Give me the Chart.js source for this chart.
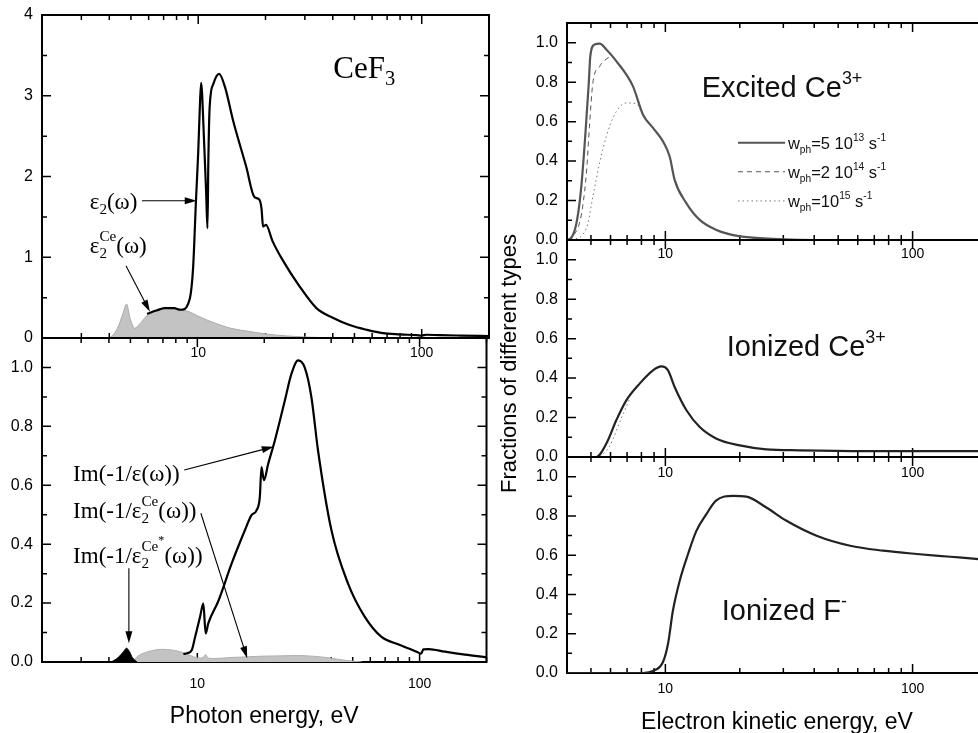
<!DOCTYPE html>
<html><head><meta charset="utf-8">
<script src="https://cdn.jsdelivr.net/npm/chart.js@4.4.1/dist/chart.umd.min.js"></script>
<style>
html,body{margin:0;padding:0;background:#fff;overflow:hidden;width:978px;height:733px;position:relative;}
canvas{position:absolute;}
</style></head><body>
<canvas id="lt"></canvas>
<canvas id="lb"></canvas>
<canvas id="rt"></canvas>
<canvas id="rm"></canvas>
<canvas id="rb"></canvas>
<script>
// ---------- DATA ----------
// Left top: epsilon_2(omega) and epsilon_2^Ce(omega)
const eps2E   = [5.9,6.5,7.1,7.8,8.3,8.7,9.0,9.27,9.5,9.77,10.0,10.15,10.3,10.6,10.85,11.0,11.1,11.25,11.7,12.4,13.2,14.3,16.4,17.8,18.8,19.2,19.5,20.1,21.5,23.8,28.4,33.8,40,47.6,57,67,80,95,100,105,120,150,200];
const eps2Val = [0.30,0.34,0.37,0.37,0.35,0.36,0.42,0.56,0.9,1.7,2.3,2.8,3.16,2.5,1.8,1.36,2.2,2.86,3.15,3.27,3.1,2.7,2.12,1.75,1.71,1.6,1.38,1.40,1.2,0.97,0.64,0.37,0.25,0.16,0.1,0.06,0.045,0.035,0.03,0.04,0.035,0.03,0.025];
const eps2CeE   = [4.0,4.2,4.4,4.6,4.78,4.95,5.2,5.5,6.0,6.5,7.1,7.8,8.5,9.2,10,11,12,14,17,20,25,30,40,50];
const eps2CeVal = [0,0.05,0.15,0.3,0.42,0.25,0.12,0.18,0.30,0.34,0.38,0.37,0.35,0.32,0.27,0.22,0.18,0.12,0.08,0.05,0.025,0.012,0.003,0];
// Left bottom: loss functions
const lossE   = [8.65,9.0,9.43,9.77,10.28,10.64,10.9,11.2,12.43,14.26,16.38,17.5,18.46,19.1,19.44,19.93,20.84,22.34,24.76,26.5,28.4,30.4,32.6,34.9,40.1,47.6,56.6,67.2,80,90,98,101.5,104,110,130,160,200];
const lossVal = [0.027,0.03,0.04,0.085,0.153,0.198,0.097,0.131,0.207,0.334,0.448,0.498,0.515,0.56,0.662,0.617,0.673,0.753,0.888,0.978,1.024,1.0,0.899,0.719,0.448,0.267,0.154,0.086,0.06,0.045,0.033,0.028,0.043,0.044,0.035,0.025,0.016];
const lossCeE   = [5.1,5.4,6.0,6.9,7.8,8.8,9.6,10.1,10.6,10.9,11.2,12,14,17,20,24,28,34,40,47,55];
const lossCeVal = [0,0.02,0.035,0.043,0.04,0.03,0.018,0.013,0.015,0.025,0.013,0.012,0.015,0.018,0.02,0.021,0.022,0.019,0.013,0.005,0];
const lossCeStarE   = [4.1,4.4,4.65,4.8,4.95,5.1,5.35];
const lossCeStarVal = [0,0.015,0.035,0.047,0.035,0.015,0];
// Right top: excited Ce3+ for three w_ph
const excE   = [4.0,4.16,4.38,4.57,4.75,4.9,4.97,5.17,5.42,5.77,6.33,7.39,8.12,8.91,9.78,10.41,10.9,12.17,13.77,16.1,18.8,22,30,40,200];
const excVal = [0,0.01,0.093,0.271,0.542,0.797,0.932,0.991,0.995,0.966,0.907,0.78,0.635,0.568,0.5,0.423,0.305,0.186,0.102,0.051,0.025,0.013,0.003,0,0];
const excDashE   = [4.0,4.29,4.49,4.63,4.8,4.93,5.09,5.42,5.67,6.1,6.33,7.39,8.12,8.91,9.78,10.41,10.9,12.17,13.77,16.1,18.8,22,30,40,200];
const excDashVal = [0,0.03,0.085,0.17,0.35,0.575,0.797,0.88,0.91,0.93,0.907,0.78,0.635,0.568,0.5,0.423,0.305,0.186,0.102,0.051,0.025,0.013,0.003,0,0];
const excDotE   = [4.0,4.3,4.57,4.85,5.09,5.42,5.77,6.23,6.95,7.63,8.12,8.91,9.78,10.41,10.9,12.17,13.77,16.1,18.8,22,30,40,200];
const excDotVal = [0,0.005,0.02,0.08,0.22,0.39,0.525,0.636,0.695,0.69,0.635,0.568,0.5,0.423,0.305,0.186,0.102,0.051,0.025,0.013,0.003,0,0];
// Right middle: ionized Ce3+
const ionCeE   = [4.0,5.25,5.77,6.33,6.95,7.87,8.91,9.63,10.25,10.9,12.17,13.77,16.1,20.0,25.6,35,65,200];
const ionCeVal = [0,0,0.068,0.186,0.287,0.372,0.439,0.459,0.439,0.355,0.237,0.152,0.093,0.059,0.039,0.034,0.03,0.03];
const ionCeDotE   = [5.45,5.95,6.6,7.2];
const ionCeDotVal = [0,0.055,0.19,0.3];
// Right bottom: ionized F-
const ionFE   = [4.0,8.12,8.91,9.78,10.25,10.73,11.43,12.35,13.35,14.66,15.98,18.8,21.28,25.6,30.9,40.9,55.9,76,104,142,185,200];
const ionFVal = [0,0,0.01,0.056,0.149,0.318,0.47,0.606,0.724,0.809,0.877,0.902,0.898,0.843,0.775,0.699,0.648,0.623,0.606,0.592,0.58,0.576];
// Tick values / labels
const leftXTicks  = [2,3,4,5,6,7,8,9,10,20,30,40,50,60,70,80,90,100,200];
const rightXTicks = [4,5,6,7,8,9,10,20,30,40,50,60,70,80,90,100,200];
const xLabelValues = [10,100];
const epsYTicks = [0,0.5,1,1.5,2,2.5,3,3.5,4];
const fracYTicks = [0,1,2,3,4,5,6,7,8,9,10,11].map(k => k/10);

// ---------- HELPERS ----------
const SANS = '"Liberation Sans", Arial, sans-serif';
const SERIF = '"Liberation Serif", "Times New Roman", serif';
const pts = (xs, ys) => xs.map((x, i) => ({x, y: ys[i]}));

function drawRich(ctx, x, y, segs, family, size, color, subOff, supOff, scr) {
  ctx.save();
  ctx.fillStyle = color; ctx.textBaseline = 'alphabetic'; ctx.textAlign = 'left';
  for (const s of segs) {
    if (typeof s === 'string') {
      ctx.font = size + 'px ' + family;
      ctx.fillText(s, x, y); x += ctx.measureText(s).width;
    } else {
      const ss = size * scr; ctx.font = ss + 'px ' + family;
      let w = 0;
      if (s.sub) { ctx.fillText(s.sub, x, y + size * subOff); w = Math.max(w, ctx.measureText(s.sub).width); }
      if (s.sup) {
        ctx.fillText(s.sup, x, y - size * supOff);
        let ww = ctx.measureText(s.sup).width;
        if (s.star) { ctx.font = (ss*0.8) + 'px ' + family; ctx.fillText('*', x + ww, y - size * supOff - size*0.3); ww += ctx.measureText('*').width; ctx.font = ss + 'px ' + family; }
        w = Math.max(w, ww);
      }
      x += w;
    }
  }
  ctx.restore();
}

function arrow(ctx, x1, y1, x2, y2) {
  const a = Math.atan2(y2 - y1, x2 - x1), L = 12, W = 3.5;
  ctx.save(); ctx.strokeStyle = '#000'; ctx.fillStyle = '#000'; ctx.lineWidth = 1.1;
  ctx.beginPath(); ctx.moveTo(x1, y1); ctx.lineTo(x2 - L*0.8*Math.cos(a), y2 - L*0.8*Math.sin(a)); ctx.stroke();
  ctx.beginPath(); ctx.moveTo(x2, y2);
  ctx.lineTo(x2 - L*Math.cos(a) + W*Math.sin(a), y2 - L*Math.sin(a) - W*Math.cos(a));
  ctx.lineTo(x2 - L*Math.cos(a) - W*Math.sin(a), y2 - L*Math.sin(a) + W*Math.cos(a));
  ctx.closePath(); ctx.fill(); ctx.restore();
}

const framePlugin = {
  id: 'frame',
  beforeDatasetsDraw(chart) {
    const {ctx, chartArea: ca} = chart;
    const xs = chart.scales.x, ys = chart.scales.y;
    ctx.save();
    ctx.strokeStyle = '#000'; ctx.lineWidth = 1.5;
    ctx.beginPath();
    for (const t of xs.ticks) {
      const px = xs.getPixelForValue(t.value);
      const L = t.label ? 9 : 5;
      ctx.moveTo(px, ca.bottom); ctx.lineTo(px, ca.bottom - L);
      ctx.moveTo(px, ca.top); ctx.lineTo(px, ca.top + L);
    }
    for (const t of ys.ticks) {
      const py = ys.getPixelForValue(t.value);
      const L = t.label ? 9 : 5;
      ctx.moveTo(ca.left, py); ctx.lineTo(ca.left + L, py);
      ctx.moveTo(ca.right, py); ctx.lineTo(ca.right - L, py);
    }
    ctx.stroke();
    ctx.lineWidth = 2;
    ctx.strokeRect(ca.left, ca.top, ca.right - ca.left, ca.bottom - ca.top);
    ctx.restore();
  },
  afterDraw(chart, args, opts) {
    const {ctx} = chart;
    const xs = chart.scales.x, ys = chart.scales.y;
    const X = v => xs.getPixelForValue(v), Y = v => ys.getPixelForValue(v);
    for (const it of (opts.items || [])) {
      if (it.type === 'text') {
        const serif = it.family === SERIF;
        drawRich(ctx, X(it.x), Y(it.y), it.segs, it.family, it.size, it.color || '#000',
                 serif ? 0.22 : 0.25, serif ? 0.52 : 0.45, serif ? 0.66 : 0.62);
      } else if (it.type === 'arrow') {
        arrow(ctx, X(it.x1), Y(it.y1), X(it.x2), Y(it.y2));
      } else if (it.type === 'line') {
        ctx.save(); ctx.strokeStyle = it.color; ctx.lineWidth = it.width; ctx.setLineDash(it.dash || []);
        ctx.beginPath(); ctx.moveTo(X(it.x1), Y(it.y)); ctx.lineTo(X(it.x2), Y(it.y)); ctx.stroke(); ctx.restore();
      } else if (it.type === 'vtitle') {
        const ca = chart.chartArea;
        ctx.save(); ctx.translate(ca.left + it.dx, ca.top + it.dy); ctx.rotate(-Math.PI/2);
        ctx.font = it.size + 'px ' + SANS; ctx.fillStyle = '#000'; ctx.textAlign = 'center'; ctx.textBaseline = 'middle';
        ctx.fillText(it.text, 0, 0); ctx.restore();
      }
    }
  }
};

function scalesFor(o) {
  return {
    x: {
      type: 'logarithmic', min: o.xmin, max: o.xmax,
      grid: {display: false, drawTicks: false}, border: {display: false},
      afterBuildTicks: s => { s.ticks = o.xTicks.map(v => ({value: v})); },
      afterFit: s => { s.height = o.xH; },
      ticks: {autoSkip: false, maxRotation: 0, minRotation: 0, padding: o.xPad, color: '#000',
              font: {family: SANS, size: 14},
              callback: v => xLabelValues.includes(v) ? String(v) : ''},
      title: o.xTitle ? {display: true, text: o.xTitle, color: '#000', font: {family: SANS, size: 23},
                         padding: {top: 0, bottom: o.titlePad}} : {display: false}
    },
    y: {
      type: 'linear', min: 0, max: o.ymax,
      grid: {display: false, drawTicks: false}, border: {display: false},
      afterBuildTicks: s => { s.ticks = o.yTicks.map(v => ({value: v})); },
      afterFit: s => { s.width = o.yW; },
      ticks: {autoSkip: false, padding: 9, color: '#000', font: {family: SANS, size: 16}, callback: o.yLabel}
    }
  };
}

function lineDs(xs, ys, o) {
  return Object.assign({
    data: pts(xs, ys), borderColor: '#000', borderWidth: 2.2, pointRadius: 0,
    cubicInterpolationMode: 'monotone', fill: false
  }, o);
}

function make(id, left, top, w, h, pad, datasets, scales, items) {
  const c = document.getElementById(id);
  c.width = w; c.height = h;
  c.style.left = left + 'px'; c.style.top = top + 'px';
  c.style.width = w + 'px'; c.style.height = h + 'px';
  return new Chart(c, {
    type: 'line',
    data: {datasets},
    options: {
      responsive: false, animation: false, events: [], devicePixelRatio: 1,
      layout: {padding: pad},
      plugins: {legend: {display: false}, tooltip: {enabled: false}, frame: {items}},
      scales
    },
    plugins: [framePlugin]
  });
}

const fracLabel = v => { const k = Math.round(v * 10); return (k % 2 === 0 && k <= 10) ? (k / 10).toFixed(1) : ''; };

// ---------- LEFT TOP ----------
make('lt', 0, -5, 500, 373, {top: 20, right: 11, left: 0, bottom: 0}, [
  lineDs(eps2E, eps2Val, {}),
  lineDs(eps2CeE, eps2CeVal, {borderColor: '#a9a9a9', borderWidth: 1, fill: 'origin', backgroundColor: '#c3c3c3'})
], scalesFor({xmin: 2, xmax: 200, xTicks: leftXTicks, xH: 30, xPad: 7, ymax: 4, yTicks: epsYTicks, yW: 42,
  yLabel: v => Number.isInteger(v) ? String(v) : ''}), [
  {type: 'text', x: 3.27, y: 1.60, segs: ['ε', {sub: '2'}, '(ω)'], family: SERIF, size: 23},
  {type: 'arrow', x1: 5.6, y1: 1.70, x2: 9.85, y2: 1.70},
  {type: 'text', x: 3.27, y: 1.058, segs: ['ε', {sub: '2', sup: 'Ce'}, '(ω)'], family: SERIF, size: 23},
  {type: 'arrow', x1: 4.75, y1: 0.895, x2: 6.08, y2: 0.326},
  {type: 'text', x: 40.2, y: 3.214, segs: ['CeF', {sub: '3'}], family: SERIF, size: 31}
]);

// ---------- LEFT BOTTOM ----------
make('lb', 0, 318, 500, 415, {top: 20, right: 11, left: 0, bottom: 0}, [
  lineDs(lossE, lossVal, {}),
  lineDs(lossCeStarE, lossCeStarVal, {borderColor: '#000', borderWidth: 1, fill: 'origin', backgroundColor: '#000'}),
  lineDs(lossCeE, lossCeVal, {borderColor: '#b0b0b0', borderWidth: 1, fill: 'origin', backgroundColor: '#c3c3c3'})
], scalesFor({xmin: 2, xmax: 200, xTicks: leftXTicks, xH: 71, xPad: 13.5, xTitle: 'Photon energy, eV', titlePad: 3,
  ymax: 1.1, yTicks: fracYTicks, yW: 42, yLabel: fracLabel}), [
  {type: 'text', x: 2.76, y: 0.613, segs: ['Im(-1/ε(ω))'], family: SERIF, size: 23},
  {type: 'arrow', x1: 8.73, y1: 0.652, x2: 22.06, y2: 0.731},
  {type: 'text', x: 2.76, y: 0.489, segs: ['Im(-1/ε', {sub: '2', sup: 'Ce'}, '(ω))'], family: SERIF, size: 23},
  {type: 'arrow', x1: 10.37, y1: 0.505, x2: 16.76, y2: 0.0126},
  {type: 'text', x: 2.76, y: 0.335, segs: ['Im(-1/ε', {sub: '2', sup: 'Ce', star: true}, '(ω))'], family: SERIF, size: 23},
  {type: 'arrow', x1: 4.92, y1: 0.318, x2: 4.92, y2: 0.0635}
]);

// ---------- RIGHT TOP ----------
make('rt', 500, 0, 500, 270, {top: 23, right: 13, left: 0, bottom: 0}, [
  lineDs(excE, excVal, {borderColor: '#555', borderWidth: 2.2}),
  lineDs(excDashE, excDashVal, {borderColor: '#555', borderWidth: 1, borderDash: [5, 4]}),
  lineDs(excDotE, excDotVal, {borderColor: '#777', borderWidth: 1, borderDash: [1.5, 3]})
], scalesFor({xmin: 4, xmax: 200, xTicks: rightXTicks, xH: 30, xPad: 5.6, ymax: 1.1, yTicks: fracYTicks, yW: 67, yLabel: fracLabel}), [
  {type: 'text', x: 14.02, y: 0.726, segs: ['Excited Ce', {sup: '3+'}], family: SANS, size: 29, color: '#111'},
  {type: 'line', x1: 19.67, x2: 30.5, y: 0.493, color: '#555', width: 2.2},
  {type: 'line', x1: 19.67, x2: 30.5, y: 0.346, color: '#555', width: 1, dash: [5, 4]},
  {type: 'line', x1: 19.67, x2: 30.5, y: 0.198, color: '#777', width: 1, dash: [1.5, 3]},
  {type: 'text', x: 31.3, y: 0.463, segs: ['w', {sub: 'ph'}, '=5 10', {sup: '13'}, ' s', {sup: '-1'}], family: SANS, size: 16.5, color: '#111'},
  {type: 'text', x: 31.3, y: 0.316, segs: ['w', {sub: 'ph'}, '=2 10', {sup: '14'}, ' s', {sup: '-1'}], family: SANS, size: 16.5, color: '#111'},
  {type: 'text', x: 31.3, y: 0.168, segs: ['w', {sub: 'ph'}, '=10', {sup: '15'}, ' s', {sup: '-1'}], family: SANS, size: 16.5, color: '#111'}
]);

// ---------- RIGHT MIDDLE ----------
make('rm', 500, 220, 500, 307, {top: 20, right: 13, left: 0, bottom: 40}, [
  lineDs(ionCeE, ionCeVal, {borderColor: '#222', borderWidth: 2.2}),
  lineDs(ionCeDotE, ionCeDotVal, {borderColor: '#777', borderWidth: 1, borderDash: [1.5, 3]})
], scalesFor({xmin: 4, xmax: 200, xTicks: rightXTicks, xH: 30, xPad: 8, ymax: 1.1, yTicks: fracYTicks, yW: 67, yLabel: fracLabel}), [
  {type: 'text', x: 17.7, y: 0.512, segs: ['Ionized Ce', {sup: '3+'}], family: SANS, size: 29, color: '#111'},
  {type: 'vtitle', dx: -57, dy: 123.5, text: 'Fractions of different types', size: 22}
]);

// ---------- RIGHT BOTTOM ----------
make('rb', 500, 437, 500, 308, {top: 20, right: 13, left: 0, bottom: 0}, [
  lineDs(ionFE, ionFVal, {borderColor: '#222', borderWidth: 2.2})
], scalesFor({xmin: 4, xmax: 200, xTicks: rightXTicks, xH: 72, xPad: 8, xTitle: 'Electron kinetic energy, eV', titlePad: 8.8,
  ymax: 1.1, yTicks: fracYTicks, yW: 67, yLabel: fracLabel}), [
  {type: 'text', x: 16.9, y: 0.272, segs: ['Ionized F', {sup: '-'}], family: SANS, size: 29, color: '#111'}
]);
</script>
</body></html>
